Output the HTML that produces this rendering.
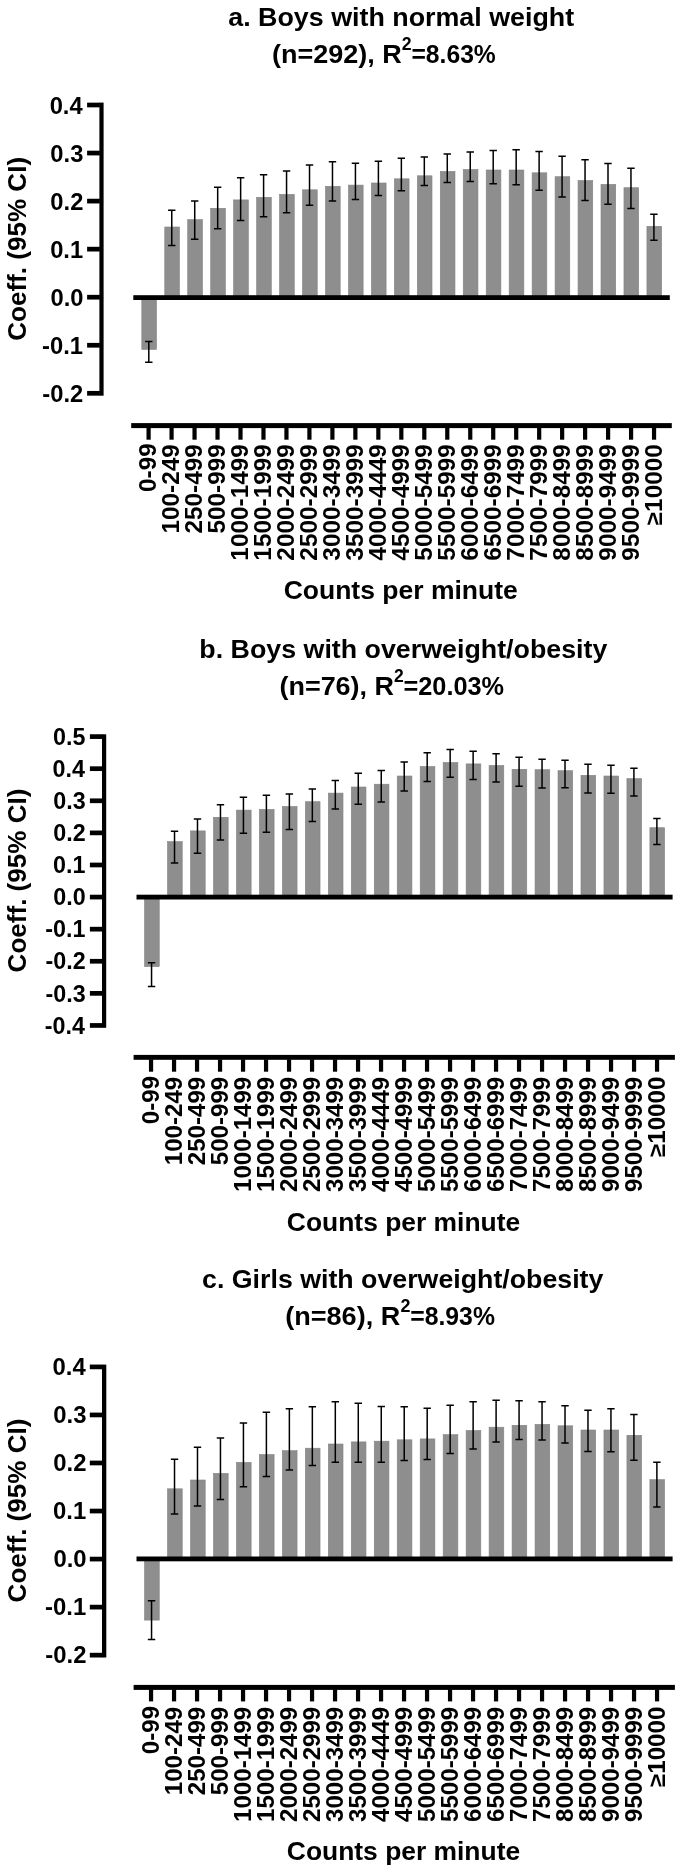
<!DOCTYPE html>
<html><head><meta charset="utf-8"><title>Figure</title>
<style>
html,body{margin:0;padding:0;background:#fff;}
svg{display:block;will-change:transform;}
text{font-family:"Liberation Sans",sans-serif;font-weight:bold;fill:#000;}
</style></head>
<body>
<svg width="685" height="1876" viewBox="0 0 685 1876">
<!-- chart 1 -->
<text transform="translate(228.24 25.6) scale(1.0528 1)" font-size="25.5">a. Boys with normal weight</text>
<text transform="translate(272.08 63) scale(1.0589 1)" font-size="25.5">(n=292), R</text>
<text transform="translate(401.7 50.3) scale(0.9943 1)" font-size="17.85">2</text>
<text transform="translate(411.43 63) scale(0.9682 1)" font-size="25.5">=8.63%</text>
<rect x="141.8" y="297.6" width="14.7" height="51.8" fill="#8e8e8e" stroke="#838383" stroke-width="0.6"/>
<rect x="164.76" y="227" width="14.7" height="70.6" fill="#8e8e8e" stroke="#838383" stroke-width="0.6"/>
<rect x="187.72" y="219.6" width="14.7" height="78" fill="#8e8e8e" stroke="#838383" stroke-width="0.6"/>
<rect x="210.68" y="208.3" width="14.7" height="89.3" fill="#8e8e8e" stroke="#838383" stroke-width="0.6"/>
<rect x="233.64" y="199.9" width="14.7" height="97.7" fill="#8e8e8e" stroke="#838383" stroke-width="0.6"/>
<rect x="256.6" y="197.3" width="14.7" height="100.3" fill="#8e8e8e" stroke="#838383" stroke-width="0.6"/>
<rect x="279.56" y="194.4" width="14.7" height="103.2" fill="#8e8e8e" stroke="#838383" stroke-width="0.6"/>
<rect x="302.52" y="189.8" width="14.7" height="107.8" fill="#8e8e8e" stroke="#838383" stroke-width="0.6"/>
<rect x="325.48" y="186.3" width="14.7" height="111.3" fill="#8e8e8e" stroke="#838383" stroke-width="0.6"/>
<rect x="348.44" y="185.1" width="14.7" height="112.5" fill="#8e8e8e" stroke="#838383" stroke-width="0.6"/>
<rect x="371.4" y="183" width="14.7" height="114.6" fill="#8e8e8e" stroke="#838383" stroke-width="0.6"/>
<rect x="394.36" y="178.8" width="14.7" height="118.8" fill="#8e8e8e" stroke="#838383" stroke-width="0.6"/>
<rect x="417.32" y="175.8" width="14.7" height="121.8" fill="#8e8e8e" stroke="#838383" stroke-width="0.6"/>
<rect x="440.28" y="171.4" width="14.7" height="126.2" fill="#8e8e8e" stroke="#838383" stroke-width="0.6"/>
<rect x="463.24" y="169.5" width="14.7" height="128.1" fill="#8e8e8e" stroke="#838383" stroke-width="0.6"/>
<rect x="486.2" y="170" width="14.7" height="127.6" fill="#8e8e8e" stroke="#838383" stroke-width="0.6"/>
<rect x="509.16" y="170" width="14.7" height="127.6" fill="#8e8e8e" stroke="#838383" stroke-width="0.6"/>
<rect x="532.12" y="172.8" width="14.7" height="124.8" fill="#8e8e8e" stroke="#838383" stroke-width="0.6"/>
<rect x="555.08" y="176.7" width="14.7" height="120.9" fill="#8e8e8e" stroke="#838383" stroke-width="0.6"/>
<rect x="578.04" y="180.5" width="14.7" height="117.1" fill="#8e8e8e" stroke="#838383" stroke-width="0.6"/>
<rect x="601" y="184.4" width="14.7" height="113.2" fill="#8e8e8e" stroke="#838383" stroke-width="0.6"/>
<rect x="623.96" y="187.7" width="14.7" height="109.9" fill="#8e8e8e" stroke="#838383" stroke-width="0.6"/>
<rect x="646.92" y="226.3" width="14.7" height="71.3" fill="#8e8e8e" stroke="#838383" stroke-width="0.6"/>
<path d="M148.8 341.55V362.3M145.1 341.55h7.4M145.1 362.3h7.4M171.76 210.15V245.4M168.06 210.15h7.4M168.06 245.4h7.4M194.72 200.95V239.3M191.02 200.95h7.4M191.02 239.3h7.4M217.68 187.35V228.8M213.98 187.35h7.4M213.98 228.8h7.4M240.64 177.85V220.4M236.94 177.85h7.4M236.94 220.4h7.4M263.6 174.65V216.7M259.9 174.65h7.4M259.9 216.7h7.4M286.56 171.05V212.8M282.86 171.05h7.4M282.86 212.8h7.4M309.52 165.05V205.3M305.82 165.05h7.4M305.82 205.3h7.4M332.48 161.85V201M328.78 161.85h7.4M328.78 201h7.4M355.44 163.25V199.6M351.74 163.25h7.4M351.74 199.6h7.4M378.4 161.15V195.4M374.7 161.15h7.4M374.7 195.4h7.4M401.36 158.35V190.8M397.66 158.35h7.4M397.66 190.8h7.4M424.32 156.95V185.4M420.62 156.95h7.4M420.62 185.4h7.4M447.28 154.05V182.5M443.58 154.05h7.4M443.58 182.5h7.4M470.24 151.95V181.4M466.54 151.95h7.4M466.54 181.4h7.4M493.2 150.55V183.7M489.5 150.55h7.4M489.5 183.7h7.4M516.16 149.85V184.7M512.46 149.85h7.4M512.46 184.7h7.4M539.12 151.55V190.3M535.42 151.55h7.4M535.42 190.3h7.4M562.08 156.25V197.1M558.38 156.25h7.4M558.38 197.1h7.4M585.04 159.85V200.6M581.34 159.85h7.4M581.34 200.6h7.4M608 163.45V204.3M604.3 163.45h7.4M604.3 204.3h7.4M630.96 168.15V208.5M627.26 168.15h7.4M627.26 208.5h7.4M653.92 214.35V240.3M650.22 214.35h7.4M650.22 240.3h7.4" stroke="#000" stroke-width="1.5" fill="none"/>
<rect x="133.3" y="295.2" width="536.5" height="4.8" fill="#000"/>
<rect x="99.4" y="102.6" width="4.2" height="293.1" fill="#000"/>
<rect x="87.1" y="102.65" width="12.8" height="4.7" fill="#000"/>
<text transform="translate(49.64 113.65) scale(0.9700 1)" font-size="24.5">0.4</text>
<rect x="87.1" y="150.7" width="12.8" height="4.7" fill="#000"/>
<text transform="translate(50.37 161.7) scale(0.9700 1)" font-size="24.5">0.3</text>
<rect x="87.1" y="198.75" width="12.8" height="4.7" fill="#000"/>
<text transform="translate(50.37 209.75) scale(0.9700 1)" font-size="24.5">0.2</text>
<rect x="87.1" y="246.8" width="12.8" height="4.7" fill="#000"/>
<text transform="translate(50.13 257.8) scale(0.9700 1)" font-size="24.5">0.1</text>
<rect x="87.1" y="294.85" width="12.8" height="4.7" fill="#000"/>
<text transform="translate(50.49 305.85) scale(0.9700 1)" font-size="24.5">0.0</text>
<rect x="87.1" y="342.9" width="12.8" height="4.7" fill="#000"/>
<text transform="translate(42.12 353.9) scale(0.9700 1)" font-size="24.5">-0.1</text>
<rect x="87.1" y="390.95" width="12.8" height="4.7" fill="#000"/>
<text transform="translate(42.37 401.95) scale(0.9700 1)" font-size="24.5">-0.2</text>
<text transform="translate(26.3 340.8) rotate(-90) scale(0.9951 1)" font-size="26.2">Coeff. (95% CI)</text>
<rect x="131.2" y="423.1" width="540.6" height="5" fill="#000"/>
<rect x="146.5" y="427.6" width="4.2" height="12.1" fill="#000"/>
<text transform="translate(156.23 492.01) rotate(-90) scale(1.0450 1)" font-size="23.3">0-99</text>
<rect x="169.47" y="427.6" width="4.2" height="12.1" fill="#000"/>
<text transform="translate(179.21 533.6) rotate(-90) scale(1.0450 1)" font-size="23.3">100-249</text>
<rect x="192.45" y="427.6" width="4.2" height="12.1" fill="#000"/>
<text transform="translate(202.18 533.6) rotate(-90) scale(1.0450 1)" font-size="23.3">250-499</text>
<rect x="215.43" y="427.6" width="4.2" height="12.1" fill="#000"/>
<text transform="translate(225.16 533.6) rotate(-90) scale(1.0450 1)" font-size="23.3">500-999</text>
<rect x="238.4" y="427.6" width="4.2" height="12.1" fill="#000"/>
<text transform="translate(248.13 560.64) rotate(-90) scale(1.0450 1)" font-size="23.3">1000-1499</text>
<rect x="261.38" y="427.6" width="4.2" height="12.1" fill="#000"/>
<text transform="translate(271.11 560.64) rotate(-90) scale(1.0450 1)" font-size="23.3">1500-1999</text>
<rect x="284.35" y="427.6" width="4.2" height="12.1" fill="#000"/>
<text transform="translate(294.08 560.64) rotate(-90) scale(1.0450 1)" font-size="23.3">2000-2499</text>
<rect x="307.32" y="427.6" width="4.2" height="12.1" fill="#000"/>
<text transform="translate(317.06 560.64) rotate(-90) scale(1.0450 1)" font-size="23.3">2500-2999</text>
<rect x="330.3" y="427.6" width="4.2" height="12.1" fill="#000"/>
<text transform="translate(340.03 560.64) rotate(-90) scale(1.0450 1)" font-size="23.3">3000-3499</text>
<rect x="353.27" y="427.6" width="4.2" height="12.1" fill="#000"/>
<text transform="translate(363.01 560.64) rotate(-90) scale(1.0450 1)" font-size="23.3">3500-3999</text>
<rect x="376.25" y="427.6" width="4.2" height="12.1" fill="#000"/>
<text transform="translate(385.98 560.64) rotate(-90) scale(1.0450 1)" font-size="23.3">4000-4449</text>
<rect x="399.23" y="427.6" width="4.2" height="12.1" fill="#000"/>
<text transform="translate(408.96 560.64) rotate(-90) scale(1.0450 1)" font-size="23.3">4500-4999</text>
<rect x="422.2" y="427.6" width="4.2" height="12.1" fill="#000"/>
<text transform="translate(431.93 560.64) rotate(-90) scale(1.0450 1)" font-size="23.3">5000-5499</text>
<rect x="445.17" y="427.6" width="4.2" height="12.1" fill="#000"/>
<text transform="translate(454.91 560.64) rotate(-90) scale(1.0450 1)" font-size="23.3">5500-5999</text>
<rect x="468.15" y="427.6" width="4.2" height="12.1" fill="#000"/>
<text transform="translate(477.88 560.64) rotate(-90) scale(1.0450 1)" font-size="23.3">6000-6499</text>
<rect x="491.12" y="427.6" width="4.2" height="12.1" fill="#000"/>
<text transform="translate(500.86 560.64) rotate(-90) scale(1.0450 1)" font-size="23.3">6500-6999</text>
<rect x="514.1" y="427.6" width="4.2" height="12.1" fill="#000"/>
<text transform="translate(523.83 560.64) rotate(-90) scale(1.0450 1)" font-size="23.3">7000-7499</text>
<rect x="537.08" y="427.6" width="4.2" height="12.1" fill="#000"/>
<text transform="translate(546.81 560.64) rotate(-90) scale(1.0450 1)" font-size="23.3">7500-7999</text>
<rect x="560.05" y="427.6" width="4.2" height="12.1" fill="#000"/>
<text transform="translate(569.78 560.64) rotate(-90) scale(1.0450 1)" font-size="23.3">8000-8499</text>
<rect x="583.02" y="427.6" width="4.2" height="12.1" fill="#000"/>
<text transform="translate(592.76 560.64) rotate(-90) scale(1.0450 1)" font-size="23.3">8500-8999</text>
<rect x="606" y="427.6" width="4.2" height="12.1" fill="#000"/>
<text transform="translate(615.73 560.64) rotate(-90) scale(1.0450 1)" font-size="23.3">9000-9499</text>
<rect x="628.98" y="427.6" width="4.2" height="12.1" fill="#000"/>
<text transform="translate(638.71 560.64) rotate(-90) scale(1.0450 1)" font-size="23.3">9500-9999</text>
<rect x="651.95" y="427.6" width="4.2" height="12.1" fill="#000"/>
<text transform="translate(661.68 525.24) rotate(-90) scale(1.0450 1)" font-size="23.3">≥10000</text>
<text transform="translate(283.66 598.7) scale(1.0398 1)" font-size="25.5">Counts per minute</text>
<!-- chart 2 -->
<text transform="translate(199.29 658) scale(1.0515 1)" font-size="25.5">b. Boys with overweight/obesity</text>
<text transform="translate(279.48 695) scale(1.0567 1)" font-size="25.5">(n=76), R</text>
<text transform="translate(393.91 682.2) scale(0.9829 1)" font-size="17.85">2</text>
<text transform="translate(403.51 695) scale(0.9922 1)" font-size="25.5">=20.03%</text>
<rect x="144.55" y="897.1" width="14.7" height="69.5" fill="#8e8e8e" stroke="#838383" stroke-width="0.6"/>
<rect x="167.52" y="841.6" width="14.7" height="55.5" fill="#8e8e8e" stroke="#838383" stroke-width="0.6"/>
<rect x="190.49" y="830.9" width="14.7" height="66.2" fill="#8e8e8e" stroke="#838383" stroke-width="0.6"/>
<rect x="213.46" y="817.3" width="14.7" height="79.8" fill="#8e8e8e" stroke="#838383" stroke-width="0.6"/>
<rect x="236.43" y="810.1" width="14.7" height="87" fill="#8e8e8e" stroke="#838383" stroke-width="0.6"/>
<rect x="259.4" y="809.4" width="14.7" height="87.7" fill="#8e8e8e" stroke="#838383" stroke-width="0.6"/>
<rect x="282.37" y="806.5" width="14.7" height="90.6" fill="#8e8e8e" stroke="#838383" stroke-width="0.6"/>
<rect x="305.34" y="801.7" width="14.7" height="95.4" fill="#8e8e8e" stroke="#838383" stroke-width="0.6"/>
<rect x="328.31" y="793.1" width="14.7" height="104" fill="#8e8e8e" stroke="#838383" stroke-width="0.6"/>
<rect x="351.28" y="787" width="14.7" height="110.1" fill="#8e8e8e" stroke="#838383" stroke-width="0.6"/>
<rect x="374.25" y="784.2" width="14.7" height="112.9" fill="#8e8e8e" stroke="#838383" stroke-width="0.6"/>
<rect x="397.22" y="776" width="14.7" height="121.1" fill="#8e8e8e" stroke="#838383" stroke-width="0.6"/>
<rect x="420.19" y="766.5" width="14.7" height="130.6" fill="#8e8e8e" stroke="#838383" stroke-width="0.6"/>
<rect x="443.16" y="762.5" width="14.7" height="134.6" fill="#8e8e8e" stroke="#838383" stroke-width="0.6"/>
<rect x="466.13" y="763.9" width="14.7" height="133.2" fill="#8e8e8e" stroke="#838383" stroke-width="0.6"/>
<rect x="489.1" y="765.5" width="14.7" height="131.6" fill="#8e8e8e" stroke="#838383" stroke-width="0.6"/>
<rect x="512.07" y="769.3" width="14.7" height="127.8" fill="#8e8e8e" stroke="#838383" stroke-width="0.6"/>
<rect x="535.04" y="769.7" width="14.7" height="127.4" fill="#8e8e8e" stroke="#838383" stroke-width="0.6"/>
<rect x="558.01" y="770.7" width="14.7" height="126.4" fill="#8e8e8e" stroke="#838383" stroke-width="0.6"/>
<rect x="580.98" y="775.3" width="14.7" height="121.8" fill="#8e8e8e" stroke="#838383" stroke-width="0.6"/>
<rect x="603.95" y="776" width="14.7" height="121.1" fill="#8e8e8e" stroke="#838383" stroke-width="0.6"/>
<rect x="626.92" y="778.6" width="14.7" height="118.5" fill="#8e8e8e" stroke="#838383" stroke-width="0.6"/>
<rect x="649.89" y="827.7" width="14.7" height="69.4" fill="#8e8e8e" stroke="#838383" stroke-width="0.6"/>
<path d="M151.55 962.75V986.6M147.85 962.75h7.4M147.85 986.6h7.4M174.52 831.35V863.1M170.82 831.35h7.4M170.82 863.1h7.4M197.49 818.95V853.3M193.79 818.95h7.4M193.79 853.3h7.4M220.46 804.75V840M216.76 804.75h7.4M216.76 840h7.4M243.43 797.25V833.2M239.73 797.25h7.4M239.73 833.2h7.4M266.4 795.35V832.3M262.7 795.35h7.4M262.7 832.3h7.4M289.37 794.05V829.4M285.67 794.05h7.4M285.67 829.4h7.4M312.34 788.95V821.6M308.64 788.95h7.4M308.64 821.6h7.4M335.31 780.45V809M331.61 780.45h7.4M331.61 809h7.4M358.28 773.25V804.3M354.58 773.25h7.4M354.58 804.3h7.4M381.25 770.45V802M377.55 770.45h7.4M377.55 802h7.4M404.22 762.05V791M400.52 762.05h7.4M400.52 791h7.4M427.19 752.65V781.4M423.49 752.65h7.4M423.49 781.4h7.4M450.16 749.55V777.2M446.46 749.55h7.4M446.46 777.2h7.4M473.13 751.25V779.5M469.43 751.25h7.4M469.43 779.5h7.4M496.1 753.85V781.9M492.4 753.85h7.4M492.4 781.9h7.4M519.07 757.15V786.3M515.37 757.15h7.4M515.37 786.3h7.4M542.04 759.25V788M538.34 759.25h7.4M538.34 788h7.4M565.01 760.15V787.7M561.31 760.15h7.4M561.31 787.7h7.4M587.98 764.25V793.1M584.28 764.25h7.4M584.28 793.1h7.4M610.95 765.35V793.3M607.25 765.35h7.4M607.25 793.3h7.4M633.92 768.15V795.9M630.22 768.15h7.4M630.22 795.9h7.4M656.89 818.55V844.5M653.19 818.55h7.4M653.19 844.5h7.4" stroke="#000" stroke-width="1.5" fill="none"/>
<rect x="136.5" y="894.7" width="536.1" height="4.8" fill="#000"/>
<rect x="102" y="734.3" width="4.2" height="293.5" fill="#000"/>
<rect x="89.9" y="734.25" width="12.6" height="4.7" fill="#000"/>
<text transform="translate(52.99 744.8) scale(1.0050 1)" font-size="23.2">0.5</text>
<rect x="89.9" y="766.34" width="12.6" height="4.7" fill="#000"/>
<text transform="translate(52.49 776.89) scale(1.0050 1)" font-size="23.2">0.4</text>
<rect x="89.9" y="798.44" width="12.6" height="4.7" fill="#000"/>
<text transform="translate(53.24 808.99) scale(1.0050 1)" font-size="23.2">0.3</text>
<rect x="89.9" y="830.53" width="12.6" height="4.7" fill="#000"/>
<text transform="translate(53.37 841.08) scale(1.0050 1)" font-size="23.2">0.2</text>
<rect x="89.9" y="862.63" width="12.6" height="4.7" fill="#000"/>
<text transform="translate(52.99 873.18) scale(1.0050 1)" font-size="23.2">0.1</text>
<rect x="89.9" y="894.72" width="12.6" height="4.7" fill="#000"/>
<text transform="translate(53.37 905.27) scale(1.0050 1)" font-size="23.2">0.0</text>
<rect x="89.9" y="926.82" width="12.6" height="4.7" fill="#000"/>
<text transform="translate(45.2 937.37) scale(1.0050 1)" font-size="23.2">-0.1</text>
<rect x="89.9" y="958.91" width="12.6" height="4.7" fill="#000"/>
<text transform="translate(45.58 969.46) scale(1.0050 1)" font-size="23.2">-0.2</text>
<rect x="89.9" y="991.01" width="12.6" height="4.7" fill="#000"/>
<text transform="translate(45.45 1001.56) scale(1.0050 1)" font-size="23.2">-0.3</text>
<rect x="89.9" y="1023.1" width="12.6" height="4.7" fill="#000"/>
<text transform="translate(44.7 1033.65) scale(1.0050 1)" font-size="23.2">-0.4</text>
<text transform="translate(26.4 972.39) rotate(-90) scale(0.9945 1)" font-size="26.2">Coeff. (95% CI)</text>
<rect x="133.6" y="1054.9" width="541.3" height="4.9" fill="#000"/>
<rect x="148.95" y="1059.3" width="4.2" height="12.4" fill="#000"/>
<text transform="translate(158.68 1124.16) rotate(-90) scale(1.0340 1)" font-size="23.3">0-99</text>
<rect x="171.95" y="1059.3" width="4.2" height="12.4" fill="#000"/>
<text transform="translate(181.68 1165.17) rotate(-90) scale(1.0340 1)" font-size="23.3">100-249</text>
<rect x="194.95" y="1059.3" width="4.2" height="12.4" fill="#000"/>
<text transform="translate(204.68 1165.17) rotate(-90) scale(1.0340 1)" font-size="23.3">250-499</text>
<rect x="217.95" y="1059.3" width="4.2" height="12.4" fill="#000"/>
<text transform="translate(227.68 1165.17) rotate(-90) scale(1.0340 1)" font-size="23.3">500-999</text>
<rect x="240.95" y="1059.3" width="4.2" height="12.4" fill="#000"/>
<text transform="translate(250.68 1191.93) rotate(-90) scale(1.0340 1)" font-size="23.3">1000-1499</text>
<rect x="263.95" y="1059.3" width="4.2" height="12.4" fill="#000"/>
<text transform="translate(273.68 1191.93) rotate(-90) scale(1.0340 1)" font-size="23.3">1500-1999</text>
<rect x="286.95" y="1059.3" width="4.2" height="12.4" fill="#000"/>
<text transform="translate(296.68 1191.93) rotate(-90) scale(1.0340 1)" font-size="23.3">2000-2499</text>
<rect x="309.95" y="1059.3" width="4.2" height="12.4" fill="#000"/>
<text transform="translate(319.68 1191.93) rotate(-90) scale(1.0340 1)" font-size="23.3">2500-2999</text>
<rect x="332.95" y="1059.3" width="4.2" height="12.4" fill="#000"/>
<text transform="translate(342.68 1191.93) rotate(-90) scale(1.0340 1)" font-size="23.3">3000-3499</text>
<rect x="355.95" y="1059.3" width="4.2" height="12.4" fill="#000"/>
<text transform="translate(365.68 1191.93) rotate(-90) scale(1.0340 1)" font-size="23.3">3500-3999</text>
<rect x="378.95" y="1059.3" width="4.2" height="12.4" fill="#000"/>
<text transform="translate(388.68 1191.93) rotate(-90) scale(1.0340 1)" font-size="23.3">4000-4449</text>
<rect x="401.95" y="1059.3" width="4.2" height="12.4" fill="#000"/>
<text transform="translate(411.68 1191.93) rotate(-90) scale(1.0340 1)" font-size="23.3">4500-4999</text>
<rect x="424.95" y="1059.3" width="4.2" height="12.4" fill="#000"/>
<text transform="translate(434.68 1191.93) rotate(-90) scale(1.0340 1)" font-size="23.3">5000-5499</text>
<rect x="447.95" y="1059.3" width="4.2" height="12.4" fill="#000"/>
<text transform="translate(457.68 1191.93) rotate(-90) scale(1.0340 1)" font-size="23.3">5500-5999</text>
<rect x="470.95" y="1059.3" width="4.2" height="12.4" fill="#000"/>
<text transform="translate(480.68 1191.93) rotate(-90) scale(1.0340 1)" font-size="23.3">6000-6499</text>
<rect x="493.95" y="1059.3" width="4.2" height="12.4" fill="#000"/>
<text transform="translate(503.68 1191.93) rotate(-90) scale(1.0340 1)" font-size="23.3">6500-6999</text>
<rect x="516.95" y="1059.3" width="4.2" height="12.4" fill="#000"/>
<text transform="translate(526.68 1191.93) rotate(-90) scale(1.0340 1)" font-size="23.3">7000-7499</text>
<rect x="539.95" y="1059.3" width="4.2" height="12.4" fill="#000"/>
<text transform="translate(549.68 1191.93) rotate(-90) scale(1.0340 1)" font-size="23.3">7500-7999</text>
<rect x="562.95" y="1059.3" width="4.2" height="12.4" fill="#000"/>
<text transform="translate(572.68 1191.93) rotate(-90) scale(1.0340 1)" font-size="23.3">8000-8499</text>
<rect x="585.95" y="1059.3" width="4.2" height="12.4" fill="#000"/>
<text transform="translate(595.68 1191.93) rotate(-90) scale(1.0340 1)" font-size="23.3">8500-8999</text>
<rect x="608.95" y="1059.3" width="4.2" height="12.4" fill="#000"/>
<text transform="translate(618.68 1191.93) rotate(-90) scale(1.0340 1)" font-size="23.3">9000-9499</text>
<rect x="631.95" y="1059.3" width="4.2" height="12.4" fill="#000"/>
<text transform="translate(641.68 1191.93) rotate(-90) scale(1.0340 1)" font-size="23.3">9500-9999</text>
<rect x="654.95" y="1059.3" width="4.2" height="12.4" fill="#000"/>
<text transform="translate(664.68 1156.9) rotate(-90) scale(1.0340 1)" font-size="23.3">≥10000</text>
<text transform="translate(286.86 1230.7) scale(1.0362 1)" font-size="25.5">Counts per minute</text>
<!-- chart 3 -->
<text transform="translate(202.08 1287.7) scale(1.0495 1)" font-size="25.5">c. Girls with overweight/obesity</text>
<text transform="translate(285.17 1325.2) scale(1.0623 1)" font-size="25.5">(n=86), R</text>
<text transform="translate(400.4 1312.4) scale(1.0057 1)" font-size="17.85">2</text>
<text transform="translate(410.23 1325.2) scale(0.9717 1)" font-size="25.5">=8.93%</text>
<rect x="144.55" y="1558.9" width="14.7" height="61.2" fill="#8e8e8e" stroke="#838383" stroke-width="0.6"/>
<rect x="167.52" y="1488.8" width="14.7" height="70.1" fill="#8e8e8e" stroke="#838383" stroke-width="0.6"/>
<rect x="190.49" y="1480" width="14.7" height="78.9" fill="#8e8e8e" stroke="#838383" stroke-width="0.6"/>
<rect x="213.46" y="1473.4" width="14.7" height="85.5" fill="#8e8e8e" stroke="#838383" stroke-width="0.6"/>
<rect x="236.43" y="1462.4" width="14.7" height="96.5" fill="#8e8e8e" stroke="#838383" stroke-width="0.6"/>
<rect x="259.4" y="1454.5" width="14.7" height="104.4" fill="#8e8e8e" stroke="#838383" stroke-width="0.6"/>
<rect x="282.37" y="1450.7" width="14.7" height="108.2" fill="#8e8e8e" stroke="#838383" stroke-width="0.6"/>
<rect x="305.34" y="1448.2" width="14.7" height="110.7" fill="#8e8e8e" stroke="#838383" stroke-width="0.6"/>
<rect x="328.31" y="1444" width="14.7" height="114.9" fill="#8e8e8e" stroke="#838383" stroke-width="0.6"/>
<rect x="351.28" y="1441.9" width="14.7" height="117" fill="#8e8e8e" stroke="#838383" stroke-width="0.6"/>
<rect x="374.25" y="1441.2" width="14.7" height="117.7" fill="#8e8e8e" stroke="#838383" stroke-width="0.6"/>
<rect x="397.22" y="1439.8" width="14.7" height="119.1" fill="#8e8e8e" stroke="#838383" stroke-width="0.6"/>
<rect x="420.19" y="1438.9" width="14.7" height="120" fill="#8e8e8e" stroke="#838383" stroke-width="0.6"/>
<rect x="443.16" y="1434.7" width="14.7" height="124.2" fill="#8e8e8e" stroke="#838383" stroke-width="0.6"/>
<rect x="466.13" y="1430.5" width="14.7" height="128.4" fill="#8e8e8e" stroke="#838383" stroke-width="0.6"/>
<rect x="489.1" y="1427.2" width="14.7" height="131.7" fill="#8e8e8e" stroke="#838383" stroke-width="0.6"/>
<rect x="512.07" y="1425.3" width="14.7" height="133.6" fill="#8e8e8e" stroke="#838383" stroke-width="0.6"/>
<rect x="535.04" y="1424.4" width="14.7" height="134.5" fill="#8e8e8e" stroke="#838383" stroke-width="0.6"/>
<rect x="558.01" y="1425.8" width="14.7" height="133.1" fill="#8e8e8e" stroke="#838383" stroke-width="0.6"/>
<rect x="580.98" y="1430" width="14.7" height="128.9" fill="#8e8e8e" stroke="#838383" stroke-width="0.6"/>
<rect x="603.95" y="1430" width="14.7" height="128.9" fill="#8e8e8e" stroke="#838383" stroke-width="0.6"/>
<rect x="626.92" y="1435.3" width="14.7" height="123.6" fill="#8e8e8e" stroke="#838383" stroke-width="0.6"/>
<rect x="649.89" y="1479.7" width="14.7" height="79.2" fill="#8e8e8e" stroke="#838383" stroke-width="0.6"/>
<path d="M151.55 1600.65V1639.4M147.85 1600.65h7.4M147.85 1639.4h7.4M174.52 1459.15V1514.1M170.82 1459.15h7.4M170.82 1514.1h7.4M197.49 1447.25V1506.1M193.79 1447.25h7.4M193.79 1506.1h7.4M220.46 1437.95V1499.6M216.76 1437.95h7.4M216.76 1499.6h7.4M243.43 1422.95V1486.7M239.73 1422.95h7.4M239.73 1486.7h7.4M266.4 1412.25V1476.5M262.7 1412.25h7.4M262.7 1476.5h7.4M289.37 1408.65V1470.1M285.67 1408.65h7.4M285.67 1470.1h7.4M312.34 1406.65V1465.5M308.64 1406.65h7.4M308.64 1465.5h7.4M335.31 1401.75V1462.2M331.61 1401.75h7.4M331.61 1462.2h7.4M358.28 1403.35V1462.2M354.58 1403.35h7.4M354.58 1462.2h7.4M381.25 1406.45V1462.2M377.55 1406.45h7.4M377.55 1462.2h7.4M404.22 1406.65V1460.6M400.52 1406.65h7.4M400.52 1460.6h7.4M427.19 1408.35V1459.4M423.49 1408.35h7.4M423.49 1459.4h7.4M450.16 1405.15V1453.5M446.46 1405.15h7.4M446.46 1453.5h7.4M473.13 1401.75V1448.9M469.43 1401.75h7.4M469.43 1448.9h7.4M496.1 1400.35V1441.9M492.4 1400.35h7.4M492.4 1441.9h7.4M519.07 1400.85V1439.4M515.37 1400.85h7.4M515.37 1439.4h7.4M542.04 1401.75V1440.1M538.34 1401.75h7.4M538.34 1440.1h7.4M565.01 1405.75V1443.1M561.31 1405.75h7.4M561.31 1443.1h7.4M587.98 1410.15V1451.5M584.28 1410.15h7.4M584.28 1451.5h7.4M610.95 1408.75V1451.7M607.25 1408.75h7.4M607.25 1451.7h7.4M633.92 1414.55V1460.3M630.22 1414.55h7.4M630.22 1460.3h7.4M656.89 1462.25V1507M653.19 1462.25h7.4M653.19 1507h7.4" stroke="#000" stroke-width="1.5" fill="none"/>
<rect x="136.5" y="1556.5" width="536.1" height="4.8" fill="#000"/>
<rect x="102" y="1364.6" width="4.3" height="292.9" fill="#000"/>
<rect x="89.8" y="1364.55" width="12.7" height="4.7" fill="#000"/>
<text transform="translate(52.57 1375.15) scale(0.9750 1)" font-size="24.5">0.4</text>
<rect x="89.8" y="1412.59" width="12.7" height="4.7" fill="#000"/>
<text transform="translate(53.3 1423.19) scale(0.9750 1)" font-size="24.5">0.3</text>
<rect x="89.8" y="1460.63" width="12.7" height="4.7" fill="#000"/>
<text transform="translate(53.3 1471.23) scale(0.9750 1)" font-size="24.5">0.2</text>
<rect x="89.8" y="1508.68" width="12.7" height="4.7" fill="#000"/>
<text transform="translate(53.06 1519.28) scale(0.9750 1)" font-size="24.5">0.1</text>
<rect x="89.8" y="1556.72" width="12.7" height="4.7" fill="#000"/>
<text transform="translate(53.42 1567.32) scale(0.9750 1)" font-size="24.5">0.0</text>
<rect x="89.8" y="1604.76" width="12.7" height="4.7" fill="#000"/>
<text transform="translate(45.02 1615.36) scale(0.9750 1)" font-size="24.5">-0.1</text>
<rect x="89.8" y="1652.8" width="12.7" height="4.7" fill="#000"/>
<text transform="translate(45.26 1663.4) scale(0.9750 1)" font-size="24.5">-0.2</text>
<text transform="translate(26.4 1602.39) rotate(-90) scale(0.9945 1)" font-size="26.2">Coeff. (95% CI)</text>
<rect x="133.6" y="1684.9" width="541.3" height="5" fill="#000"/>
<rect x="148.95" y="1689.4" width="4.2" height="12" fill="#000"/>
<text transform="translate(158.68 1754.16) rotate(-90) scale(1.0340 1)" font-size="23.3">0-99</text>
<rect x="171.95" y="1689.4" width="4.2" height="12" fill="#000"/>
<text transform="translate(181.68 1795.17) rotate(-90) scale(1.0340 1)" font-size="23.3">100-249</text>
<rect x="194.95" y="1689.4" width="4.2" height="12" fill="#000"/>
<text transform="translate(204.68 1795.17) rotate(-90) scale(1.0340 1)" font-size="23.3">250-499</text>
<rect x="217.95" y="1689.4" width="4.2" height="12" fill="#000"/>
<text transform="translate(227.68 1795.17) rotate(-90) scale(1.0340 1)" font-size="23.3">500-999</text>
<rect x="240.95" y="1689.4" width="4.2" height="12" fill="#000"/>
<text transform="translate(250.68 1821.93) rotate(-90) scale(1.0340 1)" font-size="23.3">1000-1499</text>
<rect x="263.95" y="1689.4" width="4.2" height="12" fill="#000"/>
<text transform="translate(273.68 1821.93) rotate(-90) scale(1.0340 1)" font-size="23.3">1500-1999</text>
<rect x="286.95" y="1689.4" width="4.2" height="12" fill="#000"/>
<text transform="translate(296.68 1821.93) rotate(-90) scale(1.0340 1)" font-size="23.3">2000-2499</text>
<rect x="309.95" y="1689.4" width="4.2" height="12" fill="#000"/>
<text transform="translate(319.68 1821.93) rotate(-90) scale(1.0340 1)" font-size="23.3">2500-2999</text>
<rect x="332.95" y="1689.4" width="4.2" height="12" fill="#000"/>
<text transform="translate(342.68 1821.93) rotate(-90) scale(1.0340 1)" font-size="23.3">3000-3499</text>
<rect x="355.95" y="1689.4" width="4.2" height="12" fill="#000"/>
<text transform="translate(365.68 1821.93) rotate(-90) scale(1.0340 1)" font-size="23.3">3500-3999</text>
<rect x="378.95" y="1689.4" width="4.2" height="12" fill="#000"/>
<text transform="translate(388.68 1821.93) rotate(-90) scale(1.0340 1)" font-size="23.3">4000-4449</text>
<rect x="401.95" y="1689.4" width="4.2" height="12" fill="#000"/>
<text transform="translate(411.68 1821.93) rotate(-90) scale(1.0340 1)" font-size="23.3">4500-4999</text>
<rect x="424.95" y="1689.4" width="4.2" height="12" fill="#000"/>
<text transform="translate(434.68 1821.93) rotate(-90) scale(1.0340 1)" font-size="23.3">5000-5499</text>
<rect x="447.95" y="1689.4" width="4.2" height="12" fill="#000"/>
<text transform="translate(457.68 1821.93) rotate(-90) scale(1.0340 1)" font-size="23.3">5500-5999</text>
<rect x="470.95" y="1689.4" width="4.2" height="12" fill="#000"/>
<text transform="translate(480.68 1821.93) rotate(-90) scale(1.0340 1)" font-size="23.3">6000-6499</text>
<rect x="493.95" y="1689.4" width="4.2" height="12" fill="#000"/>
<text transform="translate(503.68 1821.93) rotate(-90) scale(1.0340 1)" font-size="23.3">6500-6999</text>
<rect x="516.95" y="1689.4" width="4.2" height="12" fill="#000"/>
<text transform="translate(526.68 1821.93) rotate(-90) scale(1.0340 1)" font-size="23.3">7000-7499</text>
<rect x="539.95" y="1689.4" width="4.2" height="12" fill="#000"/>
<text transform="translate(549.68 1821.93) rotate(-90) scale(1.0340 1)" font-size="23.3">7500-7999</text>
<rect x="562.95" y="1689.4" width="4.2" height="12" fill="#000"/>
<text transform="translate(572.68 1821.93) rotate(-90) scale(1.0340 1)" font-size="23.3">8000-8499</text>
<rect x="585.95" y="1689.4" width="4.2" height="12" fill="#000"/>
<text transform="translate(595.68 1821.93) rotate(-90) scale(1.0340 1)" font-size="23.3">8500-8999</text>
<rect x="608.95" y="1689.4" width="4.2" height="12" fill="#000"/>
<text transform="translate(618.68 1821.93) rotate(-90) scale(1.0340 1)" font-size="23.3">9000-9499</text>
<rect x="631.95" y="1689.4" width="4.2" height="12" fill="#000"/>
<text transform="translate(641.68 1821.93) rotate(-90) scale(1.0340 1)" font-size="23.3">9500-9999</text>
<rect x="654.95" y="1689.4" width="4.2" height="12" fill="#000"/>
<text transform="translate(664.68 1786.9) rotate(-90) scale(1.0340 1)" font-size="23.3">≥10000</text>
<text transform="translate(286.86 1860.1) scale(1.0358 1)" font-size="25.5">Counts per minute</text>
</svg>
</body></html>
